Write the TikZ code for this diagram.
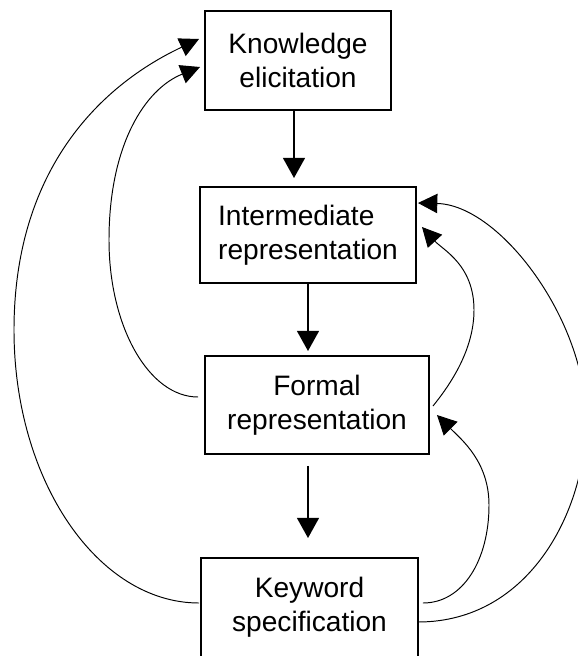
\documentclass[tikz,border=0pt]{standalone}
\usepackage{fontspec}
\setmainfont{Liberation Sans}
\usetikzlibrary{positioning,arrows.meta}
\tikzset{box/.style={draw, rectangle, line width=0.75pt, inner sep=0pt, outer sep=0pt, align=center, font=\fontsize{16}{19.5}\selectfont}}
\tikzset{arr/.style={draw, -{Triangle[length=11.5pt,width=12.5pt]}, line width=1pt}}
\tikzset{back/.style={draw, -{Triangle[length=11pt,width=11pt]}, line width=0.55pt}}

\begin{document}
\begin{tikzpicture}[x=0.02cm, y=-0.02cm]
    \useasboundingbox (0,0) rectangle (578,656);
    % the four stages
    \node[box, minimum width=3.72cm, minimum height=1.98cm] (know) at (298,60.5) {Knowledge\\elicitation};
    \node[box, align=left, minimum width=4.32cm, minimum height=1.92cm] (inter) at (308,235) {Intermediate\\representation};
    \node[box, minimum width=4.48cm, minimum height=1.96cm] (formal) at (317,405) {Formal\\representation};
    \node[box, minimum width=4.34cm, minimum height=1.98cm] (keyw) at (309.5,607.5) {Keyword\\specification};

    % forward steps
    \draw[arr, shorten >=0.18cm] ([xshift=-0.08cm]know.south) -- ([xshift=-0.08cm]know.south |- inter.north);
    \draw[arr, shorten >=0.1cm] (inter.south) -- (inter.south |- formal.north);
    \draw[arr, shorten <=0.24cm, shorten >=0.4cm] ([xshift=-0.18cm]formal.south) -- ([xshift=-0.18cm]formal.south |- keyw.north);

    % feedback on the left
    \draw[back] ([shift={(-2,-4.5)}]keyw.west) .. controls (98,603) and (14,481) .. (14,330)
        .. controls (14,175) and (95,88) .. ([shift={(-6,-21.5)}]know.west);
    \draw[back] ([shift={(-7,-8)}]formal.west) .. controls (149,397) and (109,327) .. (109,240)
        .. controls (109,145) and (145,89) .. ([shift={(-5,6.5)}]know.west);

    % feedback on the right
    \draw[back] ([shift={(4,1)}]formal.east) .. controls (450,385) and (474,350) .. (474,310)
        .. controls (474,265) and (443,250) .. ([shift={(6,-8)}]inter.east);
    \draw[back] ([yshift=-0.29cm]keyw.east) .. controls (530,622) and (586,510) .. (586,420)
        .. controls (586,320) and (500,205) .. ([shift={(2,-32)}]inter.east);
    \draw[back] ([shift={(5,-4.5)}]keyw.east) .. controls (463,603) and (489,560) .. (489,505)
        .. controls (489,462) and (462,440) .. ([shift={(8,10)}]formal.east);
\end{tikzpicture}
\end{document}
